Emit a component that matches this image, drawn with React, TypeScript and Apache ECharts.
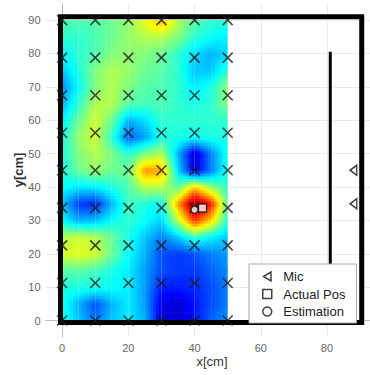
import React, { useEffect, useRef } from "react";
import * as echarts from "echarts";

// Sampling grid of the measured field (cm)
const fieldX = [0, 5, 10, 15, 20, 25, 30, 35, 40, 45, 50];
const fieldY = [0, 5, 10, 15, 20, 25, 30, 35, 40, 45, 50, 55, 60, 65, 70, 75, 80, 85, 90];

// Normalised field value per row, y = 0 first, one entry per fieldX column
const fieldRows = [
  [0.40, 0.32, 0.24, 0.32, 0.36, 0.30, 0.10, 0.08, 0.14, 0.22, 0.27],
  [0.40, 0.30, 0.20, 0.30, 0.36, 0.28, 0.10, 0.08, 0.14, 0.20, 0.25],
  [0.40, 0.40, 0.40, 0.38, 0.36, 0.28, 0.15, 0.15, 0.16, 0.20, 0.25],
  [0.46, 0.46, 0.44, 0.40, 0.36, 0.28, 0.20, 0.18, 0.18, 0.22, 0.26],
  [0.58, 0.60, 0.58, 0.48, 0.38, 0.30, 0.20, 0.18, 0.20, 0.25, 0.28],
  [0.55, 0.58, 0.55, 0.48, 0.40, 0.32, 0.25, 0.32, 0.42, 0.36, 0.32],
  [0.38, 0.30, 0.32, 0.38, 0.42, 0.38, 0.33, 0.55, 0.82, 0.66, 0.40],
  [0.32, 0.18, 0.16, 0.30, 0.44, 0.40, 0.38, 0.72, 1.00, 0.86, 0.45],
  [0.38, 0.35, 0.36, 0.40, 0.45, 0.55, 0.55, 0.47, 0.68, 0.52, 0.42],
  [0.40, 0.48, 0.52, 0.48, 0.48, 0.73, 0.71, 0.34, 0.10, 0.25, 0.40],
  [0.40, 0.50, 0.55, 0.50, 0.42, 0.50, 0.55, 0.30, 0.08, 0.25, 0.40],
  [0.40, 0.52, 0.58, 0.42, 0.22, 0.28, 0.40, 0.40, 0.38, 0.40, 0.40],
  [0.36, 0.48, 0.58, 0.48, 0.30, 0.34, 0.42, 0.42, 0.42, 0.42, 0.42],
  [0.30, 0.42, 0.55, 0.55, 0.46, 0.44, 0.45, 0.42, 0.40, 0.42, 0.50],
  [0.26, 0.38, 0.50, 0.55, 0.50, 0.46, 0.45, 0.42, 0.36, 0.40, 0.52],
  [0.32, 0.40, 0.50, 0.55, 0.52, 0.48, 0.46, 0.42, 0.32, 0.32, 0.42],
  [0.38, 0.42, 0.45, 0.50, 0.52, 0.50, 0.48, 0.42, 0.34, 0.30, 0.34],
  [0.42, 0.42, 0.45, 0.48, 0.52, 0.55, 0.55, 0.50, 0.42, 0.38, 0.36],
  [0.45, 0.45, 0.46, 0.48, 0.52, 0.60, 0.70, 0.55, 0.46, 0.42, 0.42],
];

// Measurement points (X markers)
const markerX = [0, 10, 20, 30, 40, 50];
const markerY = [0, 11.25, 22.5, 33.75, 45, 56.25, 67.5, 78.75, 90];

// Room outline, wall and devices
const roomOutline = [[-0.5, -0.6], [-0.5, 91], [90.5, 91], [90.5, -0.6], [-0.5, -0.6]];
const wallLine = [[81, -0.6], [81, 80.5]];
const micPositions = [[88, 45], [88, 35]];
const actualPos = [[42.4, 33.7]];
const estimatedPos = [[40, 33.2]];

const xTicks = [0, 20, 40, 60, 80];
const yTicks = [0, 10, 20, 30, 40, 50, 60, 70, 80, 90];

const FONT = "'Liberation Sans', Arial, Helvetica, sans-serif";
const SUB = 6;

function jet(v: number): string {
  const c = (t: number) => Math.round(255 * Math.max(0, Math.min(1, t)));
  const r = c(1.5 - Math.abs(4 * v - 3));
  const g = c(1.5 - Math.abs(4 * v - 2));
  const b = c(1.5 - Math.abs(4 * v - 1));
  return `rgb(${r},${g},${b})`;
}

const cells: number[][] = [];
for (let j = 0; j < fieldY.length - 1; j++) {
  for (let i = 0; i < fieldX.length - 1; i++) {
    cells.push([fieldX[i], fieldY[j], i, j]);
  }
}

const markerPoints: number[][] = [];
for (const y of markerY) for (const x of markerX) markerPoints.push([x, y]);

export default function App() {
  const ref = useRef<HTMLDivElement>(null);
  useEffect(() => {
    if (!ref.current) return;
    const chart = echarts.init(ref.current, null, { renderer: "svg" });
    const axisLineStyle = { color: "#bdbdbd", width: 1 };
    chart.setOption({
      animation: false,
      backgroundColor: "#fff",
      textStyle: { fontFamily: FONT },
      grid: { left: 45.6, right: -2.7, top: 3.4, bottom: 37.8, containLabel: false },
      graphic: [
        {
          type: "text",
          x: 212,
          y: 361.5,
          silent: true,
          style: {
            text: "x[cm]",
            fontSize: 13,
            fontFamily: FONT,
            fill: "#333",
            textAlign: "center",
            textVerticalAlign: "middle",
          },
        },
        {
          type: "text",
          x: 18.5,
          y: 170,
          rotation: Math.PI / 2,
          silent: true,
          style: {
            text: "y[cm]",
            fontSize: 13,
            fontWeight: "bold",
            fontFamily: FONT,
            fill: "#333",
            textAlign: "center",
            textVerticalAlign: "middle",
          },
        },
      ],
      xAxis: {
        type: "value",
        min: -5,
        max: 93,
        axisLine: { show: true, lineStyle: axisLineStyle },
        axisTick: { show: true, inside: true, length: 3, customValues: xTicks, lineStyle: axisLineStyle },
        axisLabel: { customValues: xTicks, color: "#666", fontSize: 11, margin: 5, fontFamily: FONT },
        splitLine: { show: true, lineStyle: { color: "#ebebeb", width: 1 } },
      },
      yAxis: {
        type: "value",
        min: -5,
        max: 95,
        axisLine: { show: true, lineStyle: axisLineStyle },
        axisTick: { show: true, inside: true, length: 3, customValues: yTicks, lineStyle: axisLineStyle },
        axisLabel: { customValues: yTicks, color: "#666", fontSize: 11, margin: 5, fontFamily: FONT },
        splitLine: { show: true, lineStyle: { color: "#ebebeb", width: 1 } },
      },
      legend: {
        data: ["Mic", "Actual Pos", "Estimation"],
        orient: "vertical",
        left: 249,
        top: 264,
        backgroundColor: "#fff",
        borderColor: "#a8a8a8",
        borderWidth: 1,
        padding: [6, 11, 5, 13],
        itemGap: 4.5,
        itemWidth: 22,
        itemHeight: 9,
        symbolKeepAspect: true,
        selectedMode: false,
        itemStyle: { borderWidth: 1.5 },
        textStyle: { fontSize: 13, color: "#222", fontFamily: FONT },
      },
      series: [
        {
          type: "custom",
          name: "field",
          silent: true,
          z: 1,
          data: cells,
          encode: { x: 0, y: 1 },
          renderItem: (_params: any, api: any) => {
            const i = api.value(2);
            const j = api.value(3);
            const v00 = fieldRows[j][i];
            const v10 = fieldRows[j][i + 1];
            const v01 = fieldRows[j + 1][i];
            const v11 = fieldRows[j + 1][i + 1];
            const p0 = api.coord([fieldX[i], fieldY[j]]);
            const p1 = api.coord([fieldX[i + 1], fieldY[j + 1]]);
            const w = (p1[0] - p0[0]) / SUB;
            const h = (p0[1] - p1[1]) / SUB;
            const children: any[] = [];
            for (let a = 0; a < SUB; a++) {
              for (let b = 0; b < SUB; b++) {
                const u = (a + 0.5) / SUB;
                const t = (b + 0.5) / SUB;
                const v = v00 * (1 - u) * (1 - t) + v10 * u * (1 - t) + v01 * (1 - u) * t + v11 * u * t;
                children.push({
                  type: "rect",
                  shape: {
                    x: p0[0] + a * w,
                    y: p0[1] - (b + 1) * h,
                    width: w + (a === SUB - 1 ? 0 : 0.6),
                    height: h + 0.6,
                  },
                  style: { fill: jet(v) },
                });
              }
            }
            return { type: "group", children };
          },
        },
        {
          type: "line",
          name: "room",
          silent: true,
          z: 2,
          data: roomOutline,
          symbol: "none",
          lineStyle: { color: "#000", width: 5, join: "miter", cap: "square" },
        },
        {
          type: "line",
          name: "wall",
          silent: true,
          z: 2,
          data: wallLine,
          symbol: "none",
          lineStyle: { color: "#000", width: 3 },
        },
        {
          type: "scatter",
          name: "points",
          silent: true,
          z: 3,
          data: markerPoints,
          symbol: "path://M0,0L10,10M10,0L0,10",
          symbolSize: 10,
          itemStyle: { color: "transparent", borderColor: "#1c1c1c", borderWidth: 1.6 },
        },
        {
          type: "scatter",
          name: "Mic",
          z: 4,
          data: micPositions,
          symbol: "path://M10,0L0,6L10,12Z",
          symbolSize: [8, 10],
          symbolKeepAspect: true,
          itemStyle: { color: "#fff", borderColor: "#111", borderWidth: 1.5 },
        },
        {
          type: "scatter",
          name: "Actual Pos",
          z: 4,
          data: actualPos,
          symbol: "path://M0,0L10,0L10,10L0,10Z",
          symbolSize: 8,
          symbolKeepAspect: true,
          itemStyle: { color: "#fff", borderColor: "#111", borderWidth: 1.3 },
        },
        {
          type: "scatter",
          name: "Estimation",
          z: 4,
          data: estimatedPos,
          symbol: "circle",
          symbolSize: 7,
          symbolKeepAspect: true,
          itemStyle: { color: "#fff", borderColor: "#111", borderWidth: 1.3 },
        },
      ],
    });
    return () => chart.dispose();
  }, []);
  return (
    <div
      ref={ref}
      style={{ position: "fixed", left: 0, top: 0, width: 370, height: 375, background: "#fff" }}
    />
  );
}
